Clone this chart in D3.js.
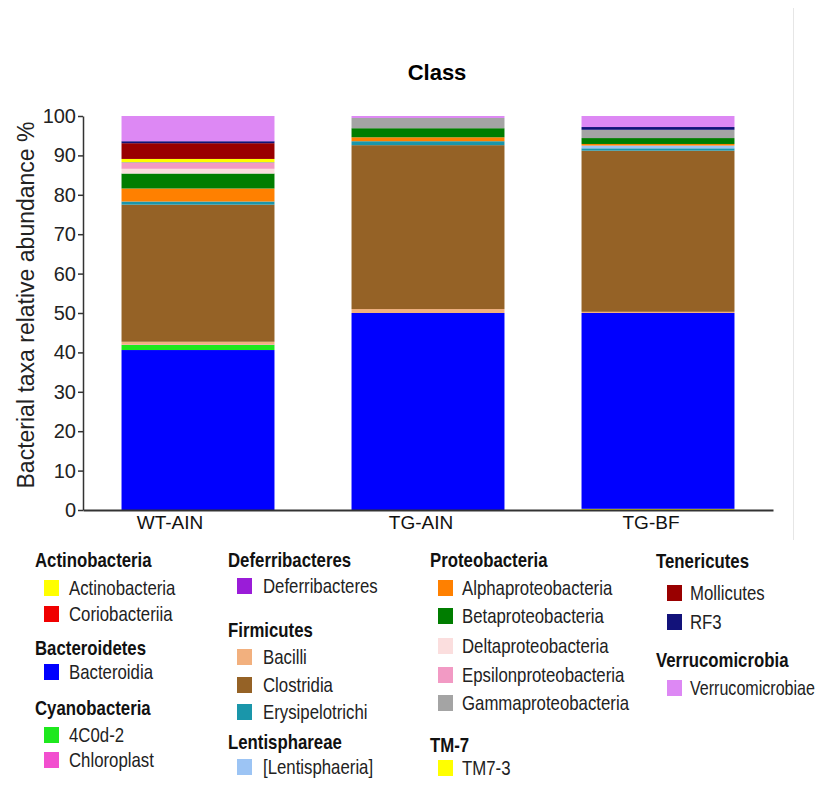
<!DOCTYPE html>
<html>
<head>
<meta charset="utf-8">
<script src="https://cdn.jsdelivr.net/npm/d3@7"></script>
<style>
  html, body { margin: 0; padding: 0; background: #fff; }
  svg { display: block; }
</style>
</head>
<body>
<svg id="chart" width="818" height="792"></svg>
<script>
// Sample groups along the x axis
const samples = ["WT-AIN", "TG-AIN", "TG-BF"];

// Taxonomic classes, stacked bottom to top in this order
const classes = [
  "Actinobacteria", "Coriobacteriia", "Bacteroidia", "4C0d-2", "Chloroplast",
  "Deferribacteres", "Bacilli", "Clostridia", "Erysipelotrichi", "[Lentisphaeria]",
  "Alphaproteobacteria", "Betaproteobacteria", "Deltaproteobacteria",
  "Epsilonproteobacteria", "Gammaproteobacteria", "TM7-3", "Mollicutes", "RF3",
  "Verrucomicrobiae"
];

const classColors = [
  "#ffff00", "#f00000", "#0000ff", "#1ee81e", "#f24fcf",
  "#9a1cd8", "#f2b07e", "#956226", "#1a96aa", "#9cc4f4",
  "#ff8000", "#007d00", "#fbdede",
  "#f29ac4", "#a4a4a4", "#ffff00", "#990000", "#12127a",
  "#dd88f4"
];

// Relative abundance (%) per class, one array per sample, same order as classes
const wtAin = [0.0, 0.0, 40.6, 1.3, 0.1, 0.0, 0.7, 34.8, 0.8, 0.0,
               3.3, 3.8, 1.2, 1.5, 0.2, 0.8, 4.0, 0.5, 6.4];
const tgAin = [0.0, 0.0, 50.0, 0.0, 0.0, 0.0, 1.0, 41.6, 1.0, 0.0,
               1.0, 2.3, 0.0, 0.0, 2.6, 0.0, 0.0, 0.0, 0.5];
const tgBf  = [0.3, 0.0, 49.7, 0.0, 0.0, 0.0, 0.3, 40.9, 0.6, 0.7,
               0.4, 1.5, 0.0, 0.0, 2.1, 0.0, 0.0, 0.7, 2.8];

const yTicks = [0, 10, 20, 30, 40, 50, 60, 70, 80, 90, 100];

// Legend: phylum headings with their classes
const legendColumns = [
  [["Actinobacteria", ["Actinobacteria", "Coriobacteriia"]],
   ["Bacteroidetes", ["Bacteroidia"]],
   ["Cyanobacteria", ["4C0d-2", "Chloroplast"]]],
  [["Deferribacteres", ["Deferribacteres"]],
   ["Firmicutes", ["Bacilli", "Clostridia", "Erysipelotrichi"]],
   ["Lentisphareae", ["[Lentisphaeria]"]]],
  [["Proteobacteria", ["Alphaproteobacteria", "Betaproteobacteria", "Deltaproteobacteria",
                       "Epsilonproteobacteria", "Gammaproteobacteria"]],
   ["TM-7", ["TM7-3"]]],
  [["Tenericutes", ["Mollicutes", "RF3"]],
   ["Verrucomicrobia", ["Verrucomicrobiae"]]]
];

const table = samples.map((s, i) => {
  const vals = [wtAin, tgAin, tgBf][i];
  const row = { sample: s };
  classes.forEach((c, j) => row[c] = vals[j]);
  return row;
});

const svg = d3.select("#chart");
const font = "'Liberation Sans', Arial, sans-serif";
const W = 818;

const plot = { left: 83, right: 773, top: 116, bottom: 510 };

const x = d3.scaleBand().domain(samples).range([plot.left, plot.right])
  .paddingInner(0.335).paddingOuter(0.1675);
const y = d3.scaleLinear().domain([0, 100]).range([plot.bottom, plot.top]);
const color = d3.scaleOrdinal().domain(classes).range(classColors);

// Faint frame line on the right
svg.append("line").attr("x1", 793.5).attr("x2", 793.5).attr("y1", 8).attr("y2", 540)
  .attr("stroke", "#e6e6e6").attr("stroke-width", 1);

// Title
svg.append("text").attr("x", 437).attr("y", 80).attr("text-anchor", "middle")
  .attr("font-family", font).attr("font-weight", "bold").attr("font-size", 22)
  .text("Class");

// Stacked bars
const stack = d3.stack().keys(classes);
const series = stack(table);
svg.append("g").selectAll("g").data(series).join("g")
  .attr("fill", d => color(d.key))
  .selectAll("rect").data(d => d).join("rect")
  .attr("x", d => x(d.data.sample))
  .attr("width", x.bandwidth())
  .attr("y", d => y(d[1]))
  .attr("height", d => Math.max(0, y(d[0]) - y(d[1])));

// Y axis
const yAxis = svg.append("g").attr("transform", `translate(${plot.left},0)`)
  .call(d3.axisLeft(y).tickValues(yTicks).tickSize(5).tickPadding(2).tickSizeOuter(0));
yAxis.selectAll("text").attr("font-family", font).attr("font-size", 20).attr("fill", "#222");
yAxis.selectAll("line, path").attr("stroke", "#333").attr("stroke-width", 1.5);

// X axis
const labelShift = { "WT-AIN": -28, "TG-AIN": -7, "TG-BF": -7 };
const xAxis = svg.append("g").attr("transform", `translate(0,${plot.bottom})`)
  .call(d3.axisBottom(x).tickSize(0).tickPadding(6).tickSizeOuter(0));
xAxis.select("path").attr("stroke", "#333").attr("stroke-width", 2);
xAxis.selectAll("text").attr("font-family", font).attr("font-size", 19).attr("fill", "#111")
  .attr("dx", d => labelShift[d]);

// Y axis title
svg.append("text")
  .attr("transform", "translate(34,305) rotate(-90)")
  .attr("text-anchor", "middle")
  .attr("font-family", font).attr("font-size", 23).attr("fill", "#222")
  .text("Bacterial taxa relative abundance %");

// Legend (condensed lettering)
const colX = [35, 228, 430, 656];
const swatchDx = [9, 9, 8, 11];
const textDx = [34, 35, 32, 34];
const legendRows = [
  [560, [588, 614], 648, [672], 708, [735, 760]],
  [560, [586], 630, [657, 685, 712], 742, [767]],
  [560, [588, 616, 646, 675, 703], 745, [768]],
  [561, [593, 622], 660, [688]]
];
function legendText(g, tx, ty, str, bold) {
  const t = g.append("text")
    .attr("dy", "0.35em")
    .attr("font-family", font).attr("font-weight", bold ? "bold" : "normal")
    .attr("font-size", 20).attr("fill", bold ? "#111" : "#222").text(str);
  // condense horizontally, and a little more if the label would run past the edge
  let sx = 0.84;
  const w = t.node().getComputedTextLength();
  if (tx + w * sx > W - 3) sx = (W - 3 - tx) / w;
  t.attr("transform", `translate(${tx},${ty}) scale(${sx},1)`);
}
legendColumns.forEach((col, ci) => {
  const rows = legendRows[ci];
  const g = svg.append("g");
  col.forEach((grp, gi) => {
    const titleY = rows[gi * 2];
    const itemYs = rows[gi * 2 + 1];
    legendText(g, colX[ci], titleY, grp[0], true);
    grp[1].forEach((name, k) => {
      g.append("rect").attr("x", colX[ci] + swatchDx[ci]).attr("y", itemYs[k] - 8)
        .attr("width", 15).attr("height", 16).attr("fill", color(name));
      legendText(g, colX[ci] + textDx[ci], itemYs[k], name, false);
    });
  });
});
</script>
</body>
</html>
